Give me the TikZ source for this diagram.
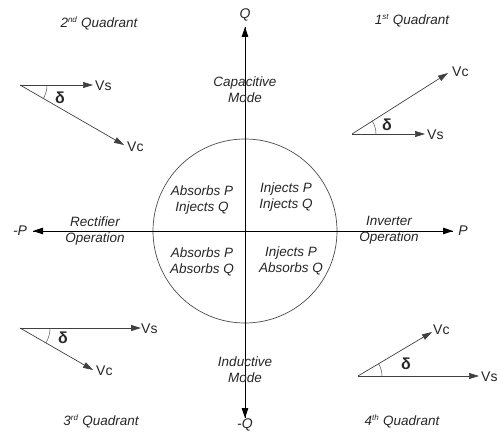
\documentclass[tikz,border=0pt]{standalone}
\usepackage{fontspec}
\setmainfont{Liberation Sans}
\usetikzlibrary{arrows.meta}
\tikzset{
  lbl/.style={inner sep=0pt, font=\fontsize{13.5}{16}\selectfont\itshape, align=center, text=black!85},
  vlbl/.style={inner sep=0pt, font=\fontsize{14}{16}\selectfont, text=black!85, anchor=west},
  dlbl/.style={inner sep=0pt, font=\fontsize{16}{16}\selectfont\bfseries, text=black!85},
  axis/.style={line width=0.8pt, black, -{Triangle[length=10pt,width=6.5pt]}},
  phasor/.style={line width=0.7pt, black!75, -{Triangle[length=10pt,width=6pt]}},
  arcline/.style={line width=0.5pt, black!70},
}
\newcommand{\supx}[1]{\textsuperscript{\fontsize{8}{8}\selectfont #1}}
\begin{document}
\begin{tikzpicture}[x=1pt,y=-1pt]
\useasboundingbox (0,0) rectangle (498,433);
% centre and axes
\coordinate (o) at (245,231);
\coordinate (qt) at (245,27);
\coordinate (qb) at (245,418);
\coordinate (pl) at (33,231);
\coordinate (pr) at (453,231);
\draw[line width=0.7pt, black!70] (o) circle[radius=92pt];
\draw[axis] (qb) -- (qt);
\draw[axis] (qt) -- (qb);
\draw[axis] (pr) -- (pl);
\draw[axis] (pl) -- (pr);
\node[lbl, font=\fontsize{14}{16}\selectfont\itshape] (Q) at (245,15) {Q};
\node[lbl, font=\fontsize{14}{16}\selectfont\itshape] (mQ) at (245,425) {-Q};
\node[lbl, font=\fontsize{14}{16}\selectfont\itshape] (mP) at (20,231) {-P};
\node[lbl, font=\fontsize{14}{16}\selectfont\itshape] (P) at (463,231) {P};
% mode labels
\node[lbl] (cap) at (245,90) {Capacitive\\Mode};
\node[lbl] (ind) at (245,370) {Inductive\\Mode};
\node[lbl] (rect) at (95,231) {Rectifier\\Operation};
\node[lbl] (inv) at (389,230) {Inverter\\Operation};
% inner labels
\node[lbl] (aPiQ) at (202,200) {Absorbs P\\Injects Q};
\node[lbl] (iPiQ) at (286,197) {Injects P\\Injects Q};
\node[lbl] (aPaQ) at (202,262) {Absorbs P\\Absorbs Q};
\node[lbl] (iPaQ) at (291,261) {Injects P\\Absorbs Q};
% quadrant labels
\node[lbl] (q2l) at (99,23) {2\supx{nd} Quadrant};
\node[lbl] (q1l) at (412,21) {1\supx{st} Quadrant};
\node[lbl] (q3l) at (101,421) {3\supx{rd} Quadrant};
\node[lbl] (q4l) at (402,421) {4\supx{th} Quadrant};
% 2nd quadrant phasors
\coordinate (q2o) at (20,85);
\coordinate (q2s) at (93,85);
\coordinate (q2c) at (124,145);
\draw[phasor] (q2o) -- (q2s);
\draw[phasor] (q2o) -- (q2c);
\draw[arcline] ([xshift=27pt]q2o) arc[start angle=0,end angle=-30,radius=27pt];
\node[vlbl] (q2sl) at (95,86) {Vs};
\node[vlbl] (q2cl) at (127,147) {Vc};
\node[dlbl] (q2d) at (60,98) {δ};
% 1st quadrant phasors
\coordinate (q1o) at (352,134);
\coordinate (q1s) at (425,134);
\coordinate (q1c) at (448,73);
\draw[phasor] (q1o) -- (q1s);
\draw[phasor] (q1o) -- (q1c);
\draw[arcline] ([xshift=24pt]q1o) arc[start angle=0,end angle=32.3,radius=24pt];
\node[vlbl] (q1sl) at (427,135) {Vs};
\node[vlbl] (q1cl) at (452,72) {Vc};
\node[dlbl] (q1d) at (387,125) {δ};
% 3rd quadrant phasors
\coordinate (q3o) at (20,328);
\coordinate (q3s) at (141,328);
\coordinate (q3c) at (93,370);
\draw[phasor, line width=1pt] (q3o) -- (q3s);
\draw[phasor] (q3o) -- (q3c);
\draw[arcline] ([xshift=30pt]q3o) arc[start angle=0,end angle=-30.3,radius=30pt];
\node[vlbl] (q3sl) at (141,329) {Vs};
\node[vlbl] (q3cl) at (96,371) {Vc};
\node[dlbl] (q3d) at (63,338) {δ};
% 4th quadrant phasors
\coordinate (q4o) at (358,376);
\coordinate (q4s) at (479,376);
\coordinate (q4c) at (432,332);
\draw[phasor] (q4o) -- (q4s);
\draw[phasor] (q4o) -- (q4c);
\draw[arcline] ([xshift=24pt]q4o) arc[start angle=0,end angle=31.1,radius=24pt];
\node[vlbl] (q4sl) at (481,377) {Vs};
\node[vlbl] (q4cl) at (433,330) {Vc};
\node[dlbl] (q4d) at (406,364) {δ};
\end{tikzpicture}
\end{document}
